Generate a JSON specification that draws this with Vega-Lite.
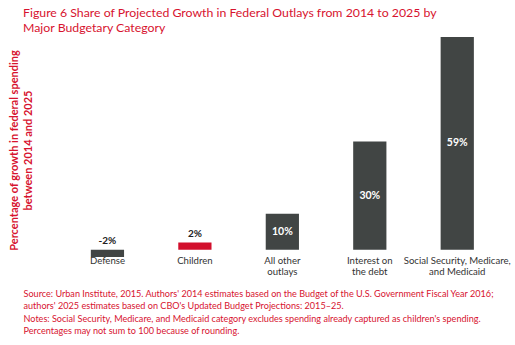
{
  "$schema": "https://vega.github.io/schema/vega-lite/v6.json",
  "autosize": {"type": "none"},
  "width": 453,
  "height": 220,
  "padding": {"left": 52, "top": 37, "right": 10, "bottom": 88},
  "background": "white",
  "config": {"view": {"stroke": null}, "font": "Lato"},
  "title": {
    "text": ["Figure 6 Share of Projected Growth in Federal Outlays from 2014 to 2025 by", "Major Budgetary Category"],
    "anchor": "start",
    "frame": "group",
    "font": "Lato",
    "fontSize": 12.3,
    "fontWeight": "normal",
    "color": "#d7132f",
    "lineHeight": 14.5,
    "dx": -29,
    "baseline": "alphabetic",
    "offset": 0,
    "dy": 7
  },
  "data": {
    "values": [
      {"category": "Defense", "value": -2, "label": "-2%", "group": "other"},
      {"category": "Children", "value": 2, "label": "2%", "group": "children"},
      {"category": "All other outlays", "value": 10, "label": "10%", "group": "other"},
      {"category": "Interest on the debt", "value": 30, "label": "30%", "group": "other"},
      {"category": "Social Security, Medicare, and Medicaid", "value": 59, "label": "59%", "group": "other"}
    ]
  },
  "encoding": {
    "x": {
      "field": "category",
      "type": "nominal",
      "sort": null,
      "scale": {"paddingInner": 0.62, "paddingOuter": 0.4, "align": 0.555},
      "axis": {
        "labelAngle": 0,
        "domain": false,
        "ticks": false,
        "labelPadding": -2,
        "labelFontSize": 9.6,
        "labelColor": "#333333",
        "labelFont": "Lato",
        "labelLineHeight": 11,
        "labelBaseline": "top",
        "labelExpr": "datum.label == 'All other outlays' ? ['All other', 'outlays'] : datum.label == 'Interest on the debt' ? ['Interest on', 'the debt'] : datum.label == 'Social Security, Medicare, and Medicaid' ? ['Social Security, Medicare,', 'and Medicaid'] : datum.label",
        "title": ["Source: Urban Institute, 2015. Authors' 2014 estimates based on the Budget of the U.S. Government Fiscal Year 2016;", "authors' 2025 estimates based on CBO's Updated Budget Projections: 2015–25.", "Notes: Social Security, Medicare, and Medicaid category excludes spending already captured as children's spending.", "Percentages may not sum to 100 because of rounding."],
        "titleFont": "Lato",
        "titleFontSize": 9.1,
        "titleFontWeight": "normal",
        "titleColor": "#d7132f",
        "titleLineHeight": 12.3,
        "titleAnchor": "start",
        "titleAlign": "left",
        "titleBaseline": "alphabetic",
        "titleX": -29,
        "titleY": 39.5
      }
    }
  },
  "layer": [
    {
      "mark": {"type": "bar"},
      "encoding": {
        "y": {
          "field": "value",
          "type": "quantitative",
          "scale": {"domain": [-2, 59], "nice": false, "zero": true},
          "axis": {
            "domain": false,
            "ticks": false,
            "labels": false,
            "grid": false,
            "title": ["Percentage of growth in federal spending", "between 2014 and 2025"],
            "titleFont": "Lato",
            "titleFontSize": 11,
            "titleFontWeight": "bold",
            "titleColor": "#d7132f",
            "titleLineHeight": 14,
            "titleAlign": "center",
            "titleBaseline": "alphabetic",
            "titleAngle": -90,
            "titleX": -35,
            "titleY": 113
          }
        },
        "color": {
          "field": "group",
          "type": "nominal",
          "scale": {"domain": ["children", "other"], "range": ["#d20f2c", "#414544"]},
          "legend": null
        }
      }
    },
    {
      "mark": {"type": "rule", "color": "#666666", "strokeWidth": 1},
      "encoding": {"y": {"datum": 0, "type": "quantitative"}}
    },
    {
      "transform": [{"filter": "datum.value < 5"}, {"calculate": "max(datum.value, 0)", "as": "top"}],
      "mark": {"type": "text", "fontSize": 10, "fontWeight": "bold", "color": "#222222", "baseline": "middle", "font": "Lato", "dy": -8.5},
      "encoding": {
        "y": {"field": "top", "type": "quantitative"},
        "text": {"field": "label"}
      }
    },
    {
      "transform": [{"filter": "datum.value >= 5"}, {"calculate": "datum.value / 2", "as": "mid"}],
      "mark": {"type": "text", "fontSize": 10.5, "fontWeight": "bold", "color": "white", "baseline": "middle", "font": "Lato"},
      "encoding": {
        "y": {"field": "mid", "type": "quantitative"},
        "text": {"field": "label"}
      }
    }
  ]
}
